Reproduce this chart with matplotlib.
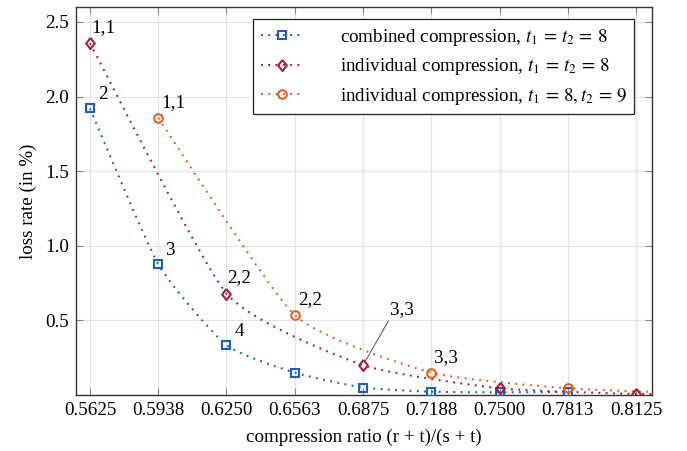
import matplotlib
matplotlib.use("Agg")
import matplotlib.pyplot as plt
import numpy as np
from matplotlib.path import Path
from matplotlib.patches import PathPatch
from matplotlib.lines import Line2D

plt.rcParams['font.family'] = ['Liberation Serif', 'DejaVu Serif']
plt.rcParams['mathtext.fontset'] = 'stix'

# ---- data ----
x_ticks = [0.5625, 0.59375, 0.625, 0.65625, 0.6875, 0.71875, 0.75, 0.78125, 0.8125]
x_tick_labels = ["0.5625", "0.5938", "0.6250", "0.6563", "0.6875", "0.7188", "0.7500", "0.7813", "0.8125"]
y_ticks = [0.5, 1.0, 1.5, 2.0, 2.5]
y_tick_labels = ["0.5", "1.0", "1.5", "2.0", "2.5"]

comb_x = [0.5625, 0.59375, 0.625, 0.65625, 0.6875, 0.71875, 0.75, 0.78125]
comb_y = [1.92, 0.876, 0.334, 0.150, 0.050, 0.022, 0.018, 0.020]
comb_labels = ["2", "3", "4", "", "", "", "", ""]

ind8_x = [0.5625, 0.625, 0.6875, 0.75, 0.8125, 0.875]
ind8_y = [2.357, 0.680, 0.200, 0.045, 0.007, 0.0]
ind8_labels = ["1,1", "2,2", "", "", "", ""]

ind9_x = [0.59375, 0.65625, 0.71875, 0.78125, 0.84375]
ind9_y = [1.857, 0.535, 0.150, 0.045, 0.008]
ind9_labels = ["1,1", "2,2", "3,3", "", ""]

pin_label = "3,3"  # pinned to ind8 point at index 2
pin_index = 2

legend_labels = [r"combined compression, $t_1\,=\,t_2\,=\,8$",
                 r"individual compression, $t_1\,=\,t_2\,=\,8$",
                 r"individual compression, $t_1\,=\,8, t_2\,=\,9$"]

c_blue = "#1a5fbf"
c_red = "#a81c3e"
c_orange = "#e3601f"

FS = 13.7

fig = plt.figure(figsize=(6.87, 4.51), dpi=100)
ax = fig.add_axes([76/687, 1-395/451, (652-76)/687, (395-7)/451])


def smooth_path(xs, ys, k=0.09):
    xs = np.asarray(xs, float)
    ys = np.asarray(ys, float)
    n = len(xs)
    verts = [(xs[0], ys[0])]
    codes = [Path.MOVETO]
    for i in range(n - 1):
        p0 = np.array([xs[max(i-1, 0)], ys[max(i-1, 0)]])
        p1 = np.array([xs[i], ys[i]])
        p2 = np.array([xs[i+1], ys[i+1]])
        p3 = np.array([xs[min(i+2, n-1)], ys[min(i+2, n-1)]])
        c1 = p1 + (p2 - p0) * k
        c2 = p2 - (p3 - p1) * k
        verts += [tuple(c1), tuple(c2), tuple(p2)]
        codes += [Path.CURVE4] * 3
    return Path(verts, codes)


diamond = [(0, 1), (0.78, 0), (0, -1), (-0.78, 0), (0, 1)]
dot_style = (0, (0.9, 2.6))
series = [
    (comb_x, comb_y, c_blue, 's', 5.2),
    (ind8_x, ind8_y, c_red, diamond, 8.0),
    (ind9_x, ind9_y, c_orange, 'o', 6.2),
]
handles = []
for xs, ys, col, mk, ms in series:
    patch = PathPatch(smooth_path(xs, ys), fill=False, edgecolor=col, lw=1.5,
                      linestyle=dot_style, zorder=3)
    ax.add_patch(patch)
    ax.plot(xs, ys, linestyle='none', marker=mk, markersize=ms, markerfacecolor='none',
            markeredgecolor=col, markeredgewidth=1.5, zorder=4, clip_on=True)
    handles.append(Line2D([], [], color=col, lw=1.5, linestyle=dot_style, marker=mk,
                          markersize=ms, markerfacecolor='none', markeredgecolor=col,
                          markeredgewidth=1.5))

# point labels
def label_points(xs, ys, labels, dx, dy):
    for x, y, t in zip(xs, ys, labels):
        if t:
            ax.annotate(t, (x, y), xytext=(dx, dy), textcoords='offset pixels',
                        ha='left', va='bottom', fontsize=FS, zorder=5)

label_points(comb_x, comb_y, comb_labels, 8, 5)
label_points(ind8_x, ind8_y, ind8_labels, 1, 7)
label_points(ind9_x, ind9_y, ind9_labels, 3, 7)

ax.annotate(pin_label, (ind8_x[pin_index], ind8_y[pin_index]), xytext=(27, 47),
            textcoords='offset pixels', ha='left', va='bottom', fontsize=FS, zorder=5,
            arrowprops=dict(arrowstyle='-', color='#666666', lw=0.8,
                            shrinkA=0, shrinkB=3, relpos=(0.0, 0.0)))

ax.set_xlim(0.5561, 0.8198)
ax.set_ylim(0, 2.6)
ax.set_xticks(x_ticks)
ax.set_xticklabels(x_tick_labels, fontsize=FS)
ax.set_yticks(y_ticks)
ax.set_yticklabels(y_tick_labels, fontsize=FS)
ax.tick_params(direction='in', length=5, width=0.8, color='#888888',
               top=True, right=True, pad=5)
ax.grid(True, color='#e3e3e3', lw=0.8, zorder=0)
ax.set_axisbelow(True)
for s in ax.spines.values():
    s.set_color('#333333')
    s.set_linewidth(1.0)

ax.set_xlabel("compression ratio (r + t)/(s + t)", fontsize=FS, labelpad=7)
ax.set_ylabel("loss rate (in %)", fontsize=FS, labelpad=6)

leg = ax.legend(handles, legend_labels, loc='upper right', bbox_to_anchor=(0.969, 0.969),
                borderaxespad=0, fontsize=FS, frameon=True, fancybox=False,
                edgecolor='#222222', framealpha=1, handlelength=2.25, handletextpad=1.9,
                labelspacing=0.45, borderpad=0.4)
leg.get_frame().set_linewidth(0.9)

fig.savefig("out.png", dpi=100)
